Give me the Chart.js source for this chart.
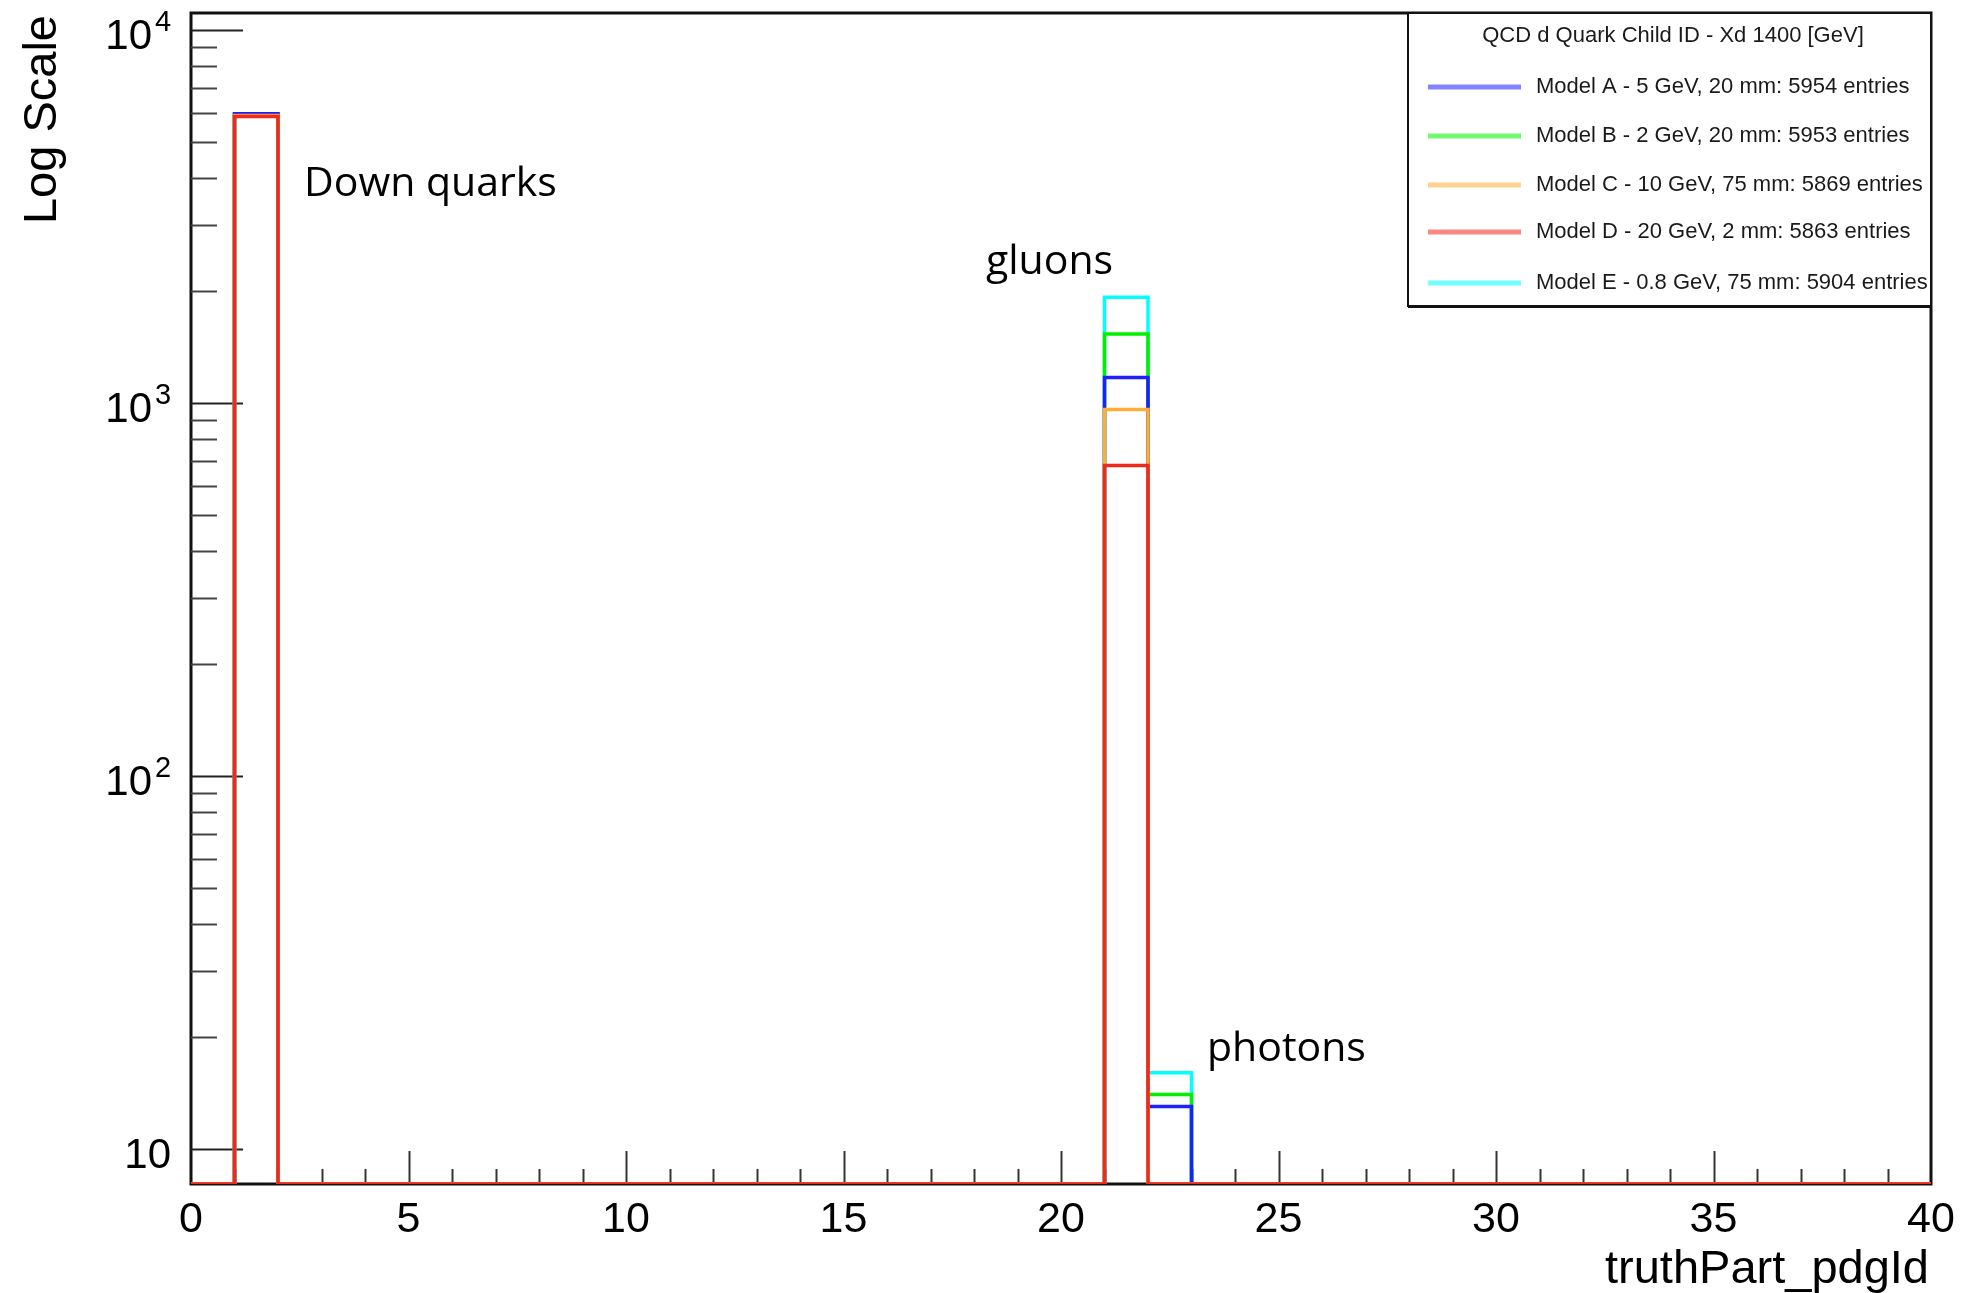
<!DOCTYPE html>
<html lang="en">
<head>
  <meta charset="UTF-8" />
  <title>QCD d Quark Child ID - Xd 1400 [GeV]</title>
  <script src="https://cdn.jsdelivr.net/npm/chart.js"></script>
  <style>
    body { margin: 0; background: #fff; }
    #wrap { width: 1962px; height: 1293px; position: relative; }
  </style>
</head>
<body>
  <div id="wrap"><canvas id="pdgChart"></canvas></div>

  <script>
    // histogram: 40 bins of width 1 from 0 to 40, only three bins are filled
    const nBins = 40;
    const filledIds = [1, 21, 22]; // d quark, gluon, photon
    const modelA = [5960, 1170, 13];
    const modelB = [5940, 1530, 14];
    const modelC = [5900, 960, 0];
    const modelD = [5860, 680, 0];
    const modelE = [5920, 1920, 16];

    const modelLabels = [
      'Model A - 5 GeV, 20 mm: 5954 entries',
      'Model B - 2 GeV, 20 mm: 5953 entries',
      'Model C - 10 GeV, 75 mm: 5869 entries',
      'Model D - 20 GeV, 2 mm: 5863 entries',
      'Model E - 0.8 GeV, 75 mm: 5904 entries'
    ];
    const modelColors = ['#1e1eff', '#00f000', '#ffac38', '#ee2a1c', '#00ffff'];
    const drawOrder = [3, 4, 2, 1, 5]; // red on top, cyan at the back

    const legendTitle = 'QCD d Quark Child ID - Xd 1400 [GeV]';
    const yTicks = [10, 100, 1000, 10000];
    const xTicks = [0, 5, 10, 15, 20, 25, 30, 35, 40];
    const notes = ['Down quarks', 'gluons', 'photons'];

    const yMin = 8.055, yMax = 11106;

    // turn bin contents into step points on the bin edges
    function histPoints(vals) {
      const pts = [];
      for (let i = 0; i <= nBins; i++) {
        const bin = Math.min(i, nBins - 1);
        const k = filledIds.indexOf(bin);
        const v = k >= 0 ? vals[k] : 0;
        pts.push({ x: i, y: v > 0 ? v : yMin });
      }
      return pts;
    }

    const datasets = [modelA, modelB, modelC, modelD, modelE].map((vals, i) => ({
      label: modelLabels[i],
      data: histPoints(vals),
      borderColor: modelColors[i],
      borderWidth: 3.5,
      stepped: true,
      pointRadius: 0,
      fill: false,
      order: drawOrder[i]
    }));

    const rootFrame = {
      id: 'rootFrame',
      beforeDatasetsDraw(chart) {
        const { ctx, chartArea: a, scales } = chart;
        const x = scales.x, y = scales.y;
        ctx.save();
        ctx.strokeStyle = '#111';
        ctx.lineWidth = 3;
        ctx.strokeRect(a.left, a.top, a.right - a.left, a.bottom - a.top);

        // y ticks, inward
        ctx.lineWidth = 2;
        for (let d = 1; d <= 4; d++) {
          for (let m = 1; m <= 9; m++) {
            const v = m * Math.pow(10, d);
            if (v < yMin || v > yMax) continue;
            const py = Math.round(y.getPixelForValue(v)) + 0.5;
            ctx.strokeStyle = m === 1 ? '#222' : '#444';
            ctx.beginPath();
            ctx.moveTo(a.left, py);
            ctx.lineTo(a.left + (m === 1 ? 52 : 26), py);
            ctx.stroke();
          }
        }
        // x ticks, inward
        ctx.strokeStyle = '#333';
        for (let i = 1; i < nBins; i++) {
          const px = Math.round(x.getPixelForValue(i)) + 0.5;
          ctx.beginPath();
          ctx.moveTo(px, a.bottom);
          ctx.lineTo(px, a.bottom - (i % 5 === 0 ? 33 : 15));
          ctx.stroke();
        }
        ctx.restore();
      },
      afterDraw(chart) {
        const { ctx, chartArea: a, scales } = chart;
        const x = scales.x, y = scales.y;
        ctx.save();
        ctx.fillStyle = '#000';

        // y labels with exponents
        yTicks.forEach(v => {
          const py = y.getPixelForValue(v);
          const e = Math.round(Math.log10(v));
          ctx.font = '42px "Liberation Sans", Arial, sans-serif';
          ctx.textBaseline = 'alphabetic';
          if (e === 1) {
            ctx.textAlign = 'right';
            ctx.fillText('10', 171, py + 19);
          } else {
            ctx.textAlign = 'right';
            ctx.fillText('10', 152, py + 19);
            ctx.font = '29px "Liberation Sans", Arial, sans-serif';
            ctx.textAlign = 'left';
            ctx.fillText(String(e), 155, py + 1);
          }
        });

        // x labels
        ctx.font = '43px "Liberation Sans", Arial, sans-serif';
        ctx.textAlign = 'center';
        xTicks.forEach(v => {
          ctx.fillText(String(v), x.getPixelForValue(v), 1232);
        });

        // axis titles
        ctx.font = '47px "Liberation Sans", Arial, sans-serif';
        ctx.textAlign = 'right';
        ctx.fillText('truthPart_pdgId', a.right - 2, 1283);
        ctx.save();
        ctx.translate(56, 15);
        ctx.rotate(-Math.PI / 2);
        ctx.textAlign = 'right';
        ctx.fillText('Log Scale', 0, 0);
        ctx.restore();

        // annotations
        ctx.font = '41px "Open Sans", sans-serif';
        ctx.textAlign = 'left';
        ctx.fillText(notes[0], 304, 196);
        ctx.fillText(notes[1], 986, 274);
        ctx.fillText(notes[2], 1207, 1061);

        // legend box
        const lx = 1408, ly = 13, lw = a.right - lx, lh = 293;
        ctx.fillStyle = '#fff';
        ctx.fillRect(lx, ly, lw, lh);
        ctx.strokeStyle = '#111';
        ctx.lineWidth = 2;
        ctx.strokeRect(lx, ly, lw, lh);
        ctx.fillStyle = '#111';
        ctx.fillRect(lx, ly + lh - 1, lw, 3);

        ctx.font = '22px "Liberation Sans", Arial, sans-serif';
        ctx.textAlign = 'center';
        ctx.textBaseline = 'middle';
        ctx.fillStyle = '#1a1a1a';
        ctx.fillText(legendTitle, 1673, 36);

        const rowY = [87, 136, 185, 232, 283];
        chart.data.datasets.forEach((ds, i) => {
          ctx.save();
          ctx.globalAlpha = 0.55;
          ctx.strokeStyle = ds.borderColor;
          ctx.lineWidth = 5;
          ctx.beginPath();
          ctx.moveTo(1428, rowY[i]);
          ctx.lineTo(1521, rowY[i]);
          ctx.stroke();
          ctx.restore();
          ctx.textAlign = 'left';
          ctx.fillStyle = '#1a1a1a';
          ctx.fillText(ds.label, 1536, rowY[i]);
        });
        ctx.restore();
      }
    };

    new Chart(document.getElementById('pdgChart'), {
      type: 'line',
      data: { datasets },
      options: {
        responsive: true,
        maintainAspectRatio: false,
        animation: false,
        layout: { padding: { left: 191, top: 13, right: 31, bottom: 109 } },
        scales: {
          x: { type: 'linear', min: 0, max: 40, display: false },
          y: { type: 'logarithmic', min: yMin, max: yMax, display: false }
        },
        plugins: {
          legend: { display: false },
          tooltip: { enabled: false }
        }
      },
      plugins: [rootFrame]
    });
  </script>
</body>
</html>
